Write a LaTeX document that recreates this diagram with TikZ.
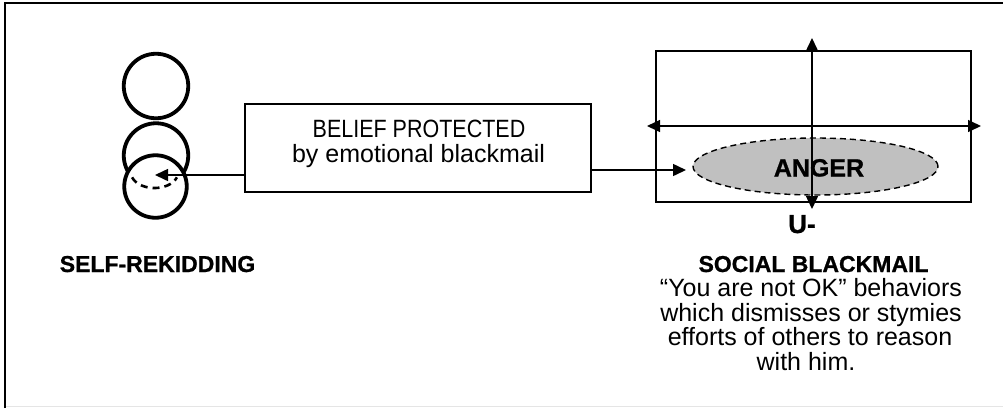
\documentclass[tikz,border=0pt]{standalone}
\usepackage{fontspec}
\setmainfont{Liberation Sans}
\newfontfamily\capsfont[FakeStretch=0.86]{Liberation Sans}
\newfontfamily\heavyfont[BoldFeatures={FakeBold=0.9}]{Liberation Sans}
\usetikzlibrary{arrows.meta,shapes.geometric}
\begin{document}
\begin{tikzpicture}[x=1pt,y=-1pt,
  arr/.style={line width=1.5pt,-{Triangle[length=13pt,width=12pt]}},
  darr/.style={line width=1.5pt,{Triangle[length=13pt,width=12pt]}-{Triangle[length=13pt,width=12pt]}},
  headcirc/.style={circle,draw,line width=3.8pt,fill=white,inner sep=0pt},
  bodytxt/.style={font=\fontsize{25}{25}\selectfont,anchor=base,inner sep=0pt},
  boldtxt/.style={font=\fontsize{23}{25}\selectfont\heavyfont\bfseries,anchor=base,inner sep=0pt}]
\useasboundingbox (0,0) rectangle (1003,408);
% frame
\draw[line width=2.8pt] (5,408) -- (5,3) -- (1003,3);
\draw[line width=1pt,black!10] (6,406.5) -- (1003,406.5);
% circles
\node[headcirc,minimum size=64.5pt] (c1) at (156,86) {};
\node[headcirc,minimum size=64.5pt] (c2) at (156,155.5) {};
\node[headcirc,minimum size=62.5pt] (c3) at (155.5,186.5) {};
\draw[line width=2.6pt,dash pattern=on 7pt off 5pt] plot[domain=162:18,samples=40] ({154.5+23.5*cos(\x)},{172.5+15.5*sin(\x)});
% belief box
\node[draw,line width=1.5pt,minimum width=346pt,minimum height=88pt,inner sep=0pt] (box) at (418,148) {};
\node[bodytxt,font=\fontsize{25}{25}\selectfont\capsfont] (bt1) at (419,137.3) {BELIEF PROTECTED};
\node[bodytxt] (bt2) at (418.5,162) {by emotional blackmail};
\coordinate (tipL) at (155,175);
\draw[arr] (box.west |- tipL) -- (tipL);
% right panel
\node[draw,line width=1.5pt,minimum width=315pt,minimum height=151pt,inner sep=0pt] (panel) at (813.5,126.5) {};
\node[ellipse,draw,dash pattern=on 6pt off 4pt,line width=1.4pt,fill={rgb,255:red,192;green,192;blue,192},minimum width=245pt,minimum height=57pt,inner sep=0pt] (anger) at (815.5,166.5) {};
\coordinate (tipR) at (686,170);
\draw[arr] (box.east |- tipR) -- (tipR);
\coordinate (vt) at (812,38);
\coordinate (vb) at (812,209);
\coordinate (hl) at (647,126);
\coordinate (hr) at (981,126);
\draw[darr] (vt) -- (vb);
\draw[darr] (hl) -- (hr);
\node[boldtxt,font=\fontsize{25}{25}\selectfont\heavyfont\bfseries] (angertxt) at (819,176.5) {ANGER};
\node[boldtxt,font=\fontsize{26}{26}\selectfont\heavyfont\bfseries] (u) at (802,233) {U-};
% labels
\node[boldtxt] (self) at (157.5,272) {SELF-REKIDDING};
\node[boldtxt] (social) at (813.5,272) {SOCIAL BLACKMAIL};
\node[bodytxt] (d1) at (811,296.5) {“You are not OK” behaviors};
\node[bodytxt] (d2) at (811,321) {which dismisses or stymies};
\node[bodytxt] (d3) at (810,345.5) {efforts of others to reason};
\node[bodytxt] (d4) at (806,370) {with him.};
\end{tikzpicture}
\end{document}
